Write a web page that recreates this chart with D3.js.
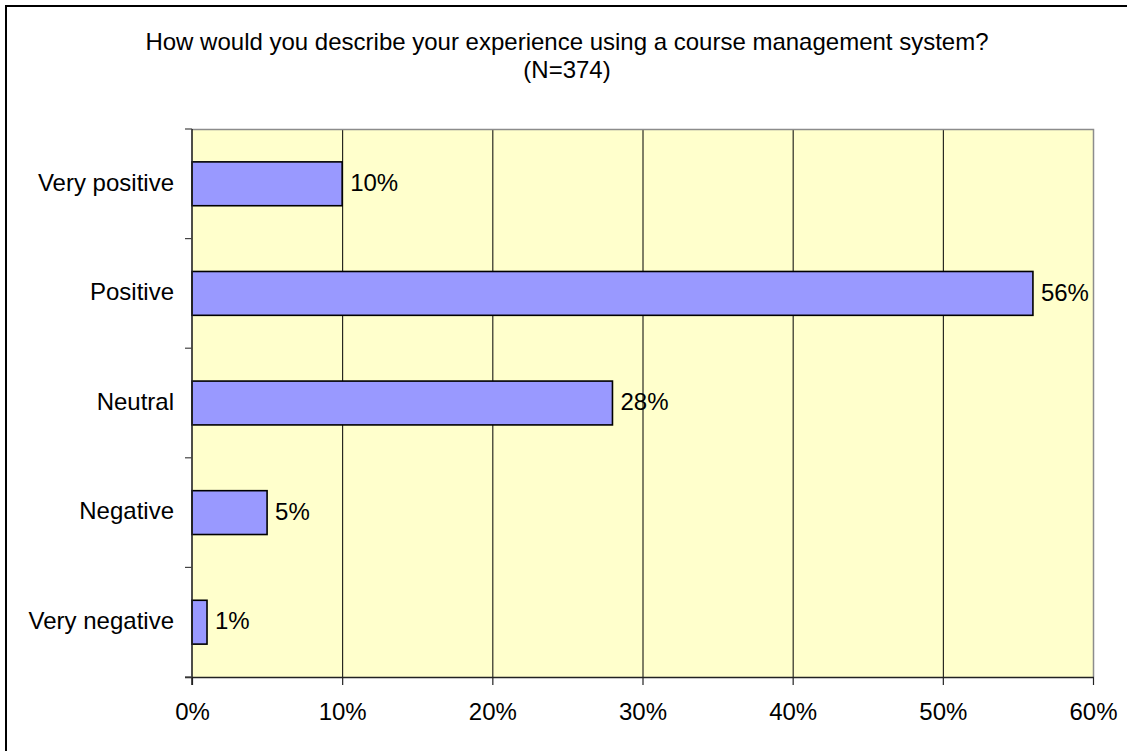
<!DOCTYPE html>
<html>
<head>
<meta charset="utf-8">
<script src="https://cdn.jsdelivr.net/npm/d3@7"></script>
<style>
  html, body { margin: 0; padding: 0; background: #fff; }
  svg { display: block; }
  text { font-family: "Liberation Sans", Arial, sans-serif; fill: #000; }
</style>
</head>
<body>
<svg id="chart" width="1127" height="751"></svg>
<script>
// Survey responses, top to bottom
const categories = ["Very positive", "Positive", "Neutral", "Negative", "Very negative"];
const percents = [10, 56, 28, 5, 1];
const xTicks = [0, 10, 20, 30, 40, 50, 60];
const titleLines = ["How would you describe your experience using a course management system?", "(N=374)"];

const svg = d3.select("#chart");
const W = 1127, H = 751;
const plot = { left: 192, right: 1093, top: 129, bottom: 677 };
const fontSize = 24;

// Outer chart frame (left and top edges)
svg.append("path")
  .attr("d", `M6,${H} L6,6 L${W},6`)
  .attr("fill", "none").attr("stroke", "#000").attr("stroke-width", 2);

// Title
svg.append("g").selectAll("text")
  .data(titleLines).join("text")
  .attr("x", 567).attr("y", (d, i) => 50 + i * 28)
  .attr("text-anchor", "middle")
  .style("font-size", fontSize + "px")
  .text(d => d);

const x = d3.scaleLinear().domain([0, 60]).range([plot.left, plot.right]);
const y = d3.scaleBand().domain(categories)
  .range([plot.top, plot.bottom]).paddingInner(0.6).paddingOuter(0.3);

// Plot background
svg.append("rect")
  .attr("x", plot.left).attr("y", plot.top)
  .attr("width", plot.right - plot.left).attr("height", plot.bottom - plot.top)
  .attr("fill", "#FFFFCC");

// Vertical gridlines
svg.append("g").selectAll("line")
  .data(xTicks.filter(t => t > 0 && t < 60)).join("line")
  .attr("x1", d => x(d) + 0.5).attr("x2", d => x(d) + 0.5)
  .attr("y1", plot.top).attr("y2", plot.bottom)
  .attr("stroke", "#000").attr("stroke-width", 1);

// Plot border (top and right)
svg.append("path")
  .attr("d", `M${plot.left},${plot.top + 0.5} L${plot.right + 0.5},${plot.top + 0.5} L${plot.right + 0.5},${plot.bottom}`)
  .attr("fill", "none").attr("stroke", "#8c8c8c").attr("stroke-width", 1.5);

// Bars
svg.append("g").selectAll("rect")
  .data(categories).join("rect")
  .attr("x", x(0))
  .attr("y", d => y(d))
  .attr("width", (d, i) => x(percents[i]) - x(0))
  .attr("height", y.bandwidth())
  .attr("fill", "#9999FF")
  .attr("stroke", "#000").attr("stroke-width", 1.6);

// Value labels
svg.append("g").selectAll("text")
  .data(categories).join("text")
  .attr("x", (d, i) => x(percents[i]) + 8)
  .attr("y", d => y(d) + y.bandwidth() / 2 + fontSize * 0.3)
  .style("font-size", fontSize + "px")
  .text((d, i) => percents[i] + "%");

// X axis
const xAxis = d3.axisBottom(x).tickValues(xTicks).tickFormat(d => d + "%").tickSize(8).tickPadding(18);
const gx = svg.append("g").attr("transform", `translate(0,${plot.bottom})`).call(xAxis);
gx.select(".domain").attr("stroke", "#222").attr("stroke-width", 1.5)
  .attr("d", `M${plot.left - 7},0.5H${plot.right + 1}`);
gx.selectAll(".tick line").attr("stroke", "#222").attr("stroke-width", 1.2);
gx.selectAll(".tick text").style("font-size", fontSize + "px")
  .style("font-family", '"Liberation Sans", Arial, sans-serif').attr("fill", "#000");

// Y axis: line, boundary ticks, category labels
const step = y.step();
const boundaries = d3.range(categories.length + 1).map(i => plot.top + i * step);
svg.append("line")
  .attr("x1", plot.left).attr("x2", plot.left)
  .attr("y1", plot.top).attr("y2", plot.bottom + 8)
  .attr("stroke", "#222").attr("stroke-width", 1.6);
svg.append("g").selectAll("line")
  .data(boundaries).join("line")
  .attr("x1", plot.left - 7).attr("x2", plot.left)
  .attr("y1", d => d).attr("y2", d => d)
  .attr("stroke", "#444").attr("stroke-width", 1.2);
svg.append("g").selectAll("text")
  .data(categories).join("text")
  .attr("x", 174)
  .attr("y", d => y(d) + y.bandwidth() / 2 + fontSize * 0.28)
  .attr("text-anchor", "end")
  .style("font-size", fontSize + "px")
  .text(d => d);
</script>
</body>
</html>
